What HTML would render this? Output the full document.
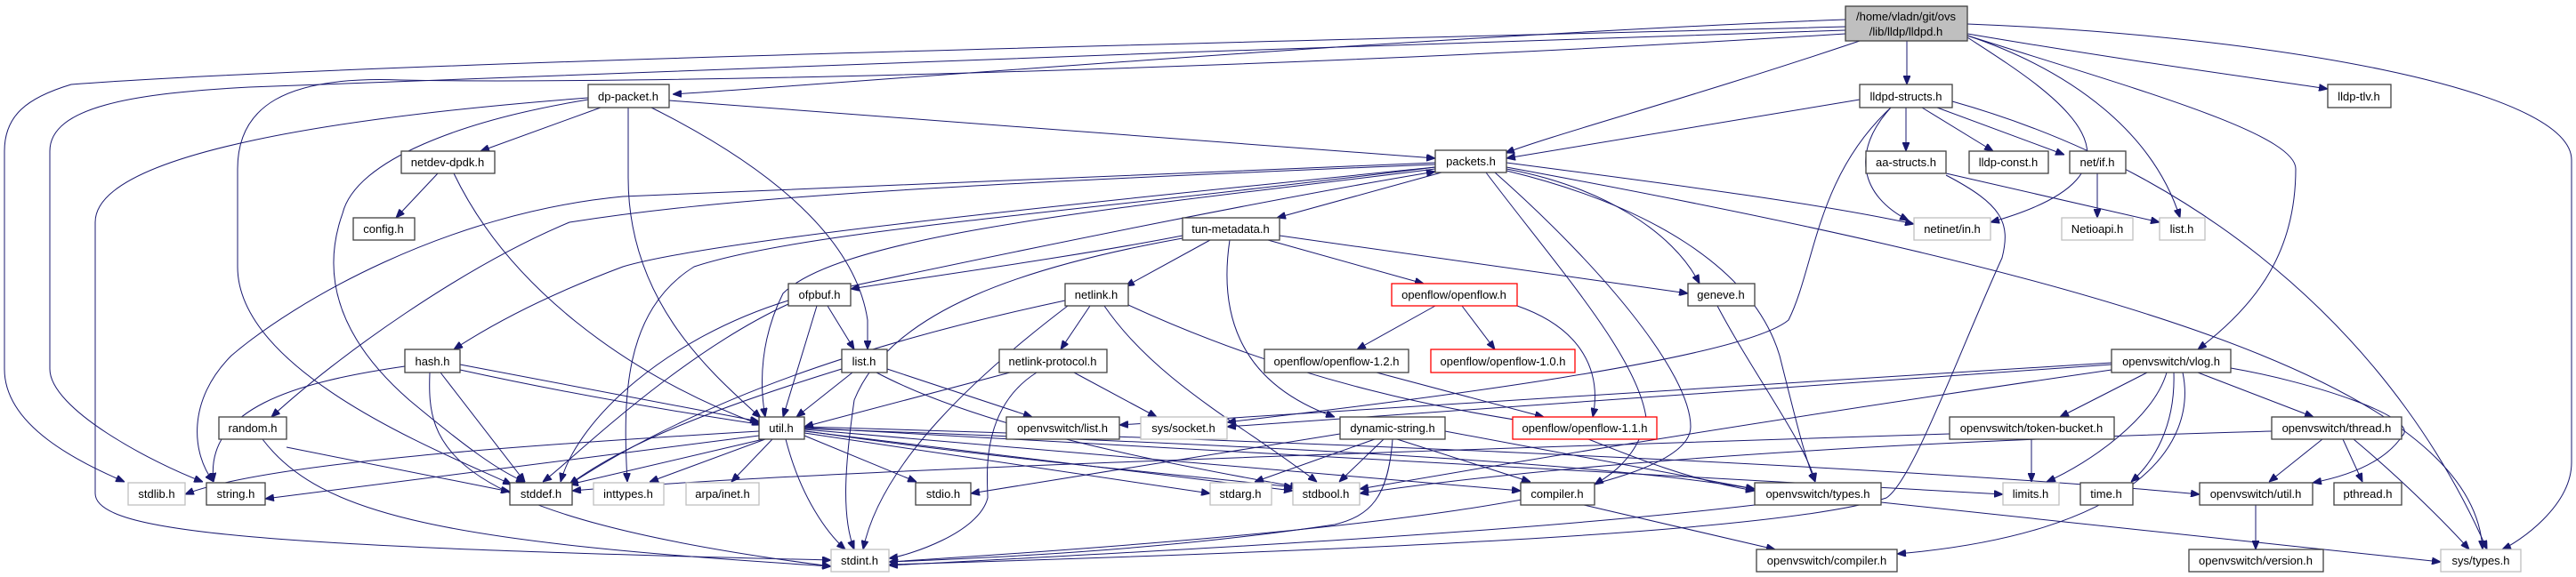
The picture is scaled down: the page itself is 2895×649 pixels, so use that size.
<!DOCTYPE html>
<html><head><meta charset="utf-8"><style>
html,body{margin:0;padding:0;background:#fff;}
svg{display:block;}
text{font-family:"Liberation Sans",sans-serif;font-size:13px;fill:#000;text-anchor:middle;}
.b{fill:#fff;stroke:#404040;stroke-width:1.3;}
.g{fill:#fff;stroke:#bfbfbf;stroke-width:1.3;}
.r{fill:#fff;stroke:#ff0000;stroke-width:1.3;}
.e{fill:none;stroke:#191970;stroke-width:1;marker-end:url(#a);}
</style></head><body>
<svg width="2895" height="649" viewBox="0 0 2895 649" xmlns="http://www.w3.org/2000/svg">
<defs><marker id="a" markerWidth="10" markerHeight="8" refX="10" refY="4" orient="auto" markerUnits="userSpaceOnUse"><path d="M0,0 L10,4 L0,8 z" fill="#191970" stroke="#191970"/></marker></defs>
<g>
<path class="e" d="M2074,22 C1600,40 1000,90 756,106"/>
<path class="e" d="M2143,46 L2143,95"/>
<path class="e" d="M2211,38 C2400,70 2550,90 2616,100"/>
<path class="e" d="M2090,46 C1900,110 1750,150 1692,172"/>
<path class="e" d="M2211,40 C2330,80 2420,150 2450,245"/>
<path class="e" d="M2211,42 C2300,100 2450,190 2237,250"/>
<path class="e" d="M2211,40 C2400,100 2580,150 2580,190 C2580,280 2540,340 2470,393"/>
<path class="e" d="M2211,27 C2550,40 2890,100 2890,180 L2890,520 C2890,570 2830,610 2812,618"/>
<path class="e" d="M2074,30 C1500,45 400,70 80,95 C30,110 5,130 5,170 L5,415 C5,480 90,520 140,542"/>
<path class="e" d="M2074,34 C1500,50 800,80 280,98 C150,105 56,120 56,170 L56,415 C56,460 170,520 228,542"/>
<path class="e" d="M2074,38 C1400,80 700,95 450,90 C320,85 267,120 267,190 L267,300 C267,420 500,510 575,545"/>
<path class="e" d="M661,110 C400,130 107,170 107,250 L107,555 C107,600 300,615 934,630"/>
<path class="e" d="M675,121 L540,170"/>
<path class="e" d="M661,112 C520,135 400,180 385,240 C360,310 380,380 460,450 C520,500 560,530 590,542"/>
<path class="e" d="M706,121 L706,200 C706,340 800,420 855,470"/>
<path class="e" d="M732,121 C850,180 960,260 975,360 L975,393"/>
<path class="e" d="M752,113 L1613,178"/>
<path class="e" d="M492,195 L445,245"/>
<path class="e" d="M510,195 C570,320 700,420 855,478"/>
<path class="e" d="M1613,183 C1200,200 900,215 700,221 C500,240 330,340 260,400 C210,450 215,510 240,542"/>
<path class="e" d="M1613,185 C1000,210 800,225 640,250 C520,300 380,400 305,469"/>
<path class="e" d="M1613,188 C1200,230 800,270 700,300 C620,330 560,360 510,393"/>
<path class="e" d="M1613,190 C1300,230 950,260 880,330 C855,380 853,430 860,469"/>
<path class="e" d="M1613,188 C1200,240 900,260 780,300 C700,350 700,450 705,542"/>
<path class="e" d="M1620,194 L1435,245"/>
<path class="e" d="M956,322 C1200,270 1450,220 1613,193"/>
<path class="e" d="M1693,183 C1900,210 2050,230 2151,252"/>
<path class="e" d="M1693,188 C2300,300 2780,420 2790,618"/>
<path class="e" d="M1693,190 C1800,210 1880,260 1910,319"/>
<path class="e" d="M1693,192 C1850,230 1970,300 2000,400 C2020,480 2030,520 2040,542"/>
<path class="e" d="M1670,194 C1750,300 1840,400 1850,470 C1840,520 1800,540 1792,545"/>
<path class="e" d="M1680,194 C1800,300 1900,420 1900,480 C1900,560 1500,600 999,632"/>
<path class="e" d="M1360,270 L1265,322"/>
<path class="e" d="M1329,265 C1200,290 1050,310 956,325"/>
<path class="e" d="M1425,270 L1600,319"/>
<path class="e" d="M1438,265 L1897,330"/>
<path class="e" d="M1382,270 C1370,350 1390,430 1500,469"/>
<path class="e" d="M1329,268 C1150,300 1000,350 960,450 C950,520 945,580 960,618"/>
<path class="e" d="M1613,344 L1525,393"/>
<path class="e" d="M1643,344 L1680,393"/>
<path class="e" d="M1705,344 C1780,370 1800,420 1790,469"/>
<path class="e" d="M1547,419 L1735,469"/>
<path class="e" d="M1225,344 L1192,393"/>
<path class="e" d="M1241,344 C1300,430 1400,480 1480,542"/>
<path class="e" d="M1197,338 C1000,380 800,440 640,545"/>
<path class="e" d="M1200,344 C1100,420 990,520 970,618"/>
<path class="e" d="M1268,343 C1500,450 1700,470 1750,480 C1850,520 1900,540 1972,552"/>
<path class="e" d="M1135,419 L904,480"/>
<path class="e" d="M1165,419 C1100,460 1110,540 1110,560 C1100,600 1020,625 999,628"/>
<path class="e" d="M1207,419 L1300,469"/>
<path class="e" d="M930,344 L960,393"/>
<path class="e" d="M918,344 L880,469"/>
<path class="e" d="M886,338 C750,380 650,470 630,542"/>
<path class="e" d="M886,342 C760,400 640,520 610,542"/>
<path class="e" d="M455,412 C330,430 230,460 240,542"/>
<path class="e" d="M495,419 L590,542"/>
<path class="e" d="M483,419 C480,500 490,580 934,637"/>
<path class="e" d="M517,410 L853,474"/>
<path class="e" d="M517,416 C900,500 1300,530 1453,548"/>
<path class="e" d="M322,503 L573,553"/>
<path class="e" d="M295,494 C360,580 500,610 934,637"/>
<path class="e" d="M958,419 L895,469"/>
<path class="e" d="M997,415 L1160,469"/>
<path class="e" d="M946,415 C800,460 700,500 640,545"/>
<path class="e" d="M985,419 C1100,480 1300,520 1460,548"/>
<path class="e" d="M853,485 C600,500 300,520 208,556"/>
<path class="e" d="M853,490 L298,561"/>
<path class="e" d="M858,494 L640,545"/>
<path class="e" d="M860,494 L730,542"/>
<path class="e" d="M868,494 L822,542"/>
<path class="e" d="M883,494 C900,560 930,600 950,618"/>
<path class="e" d="M904,490 L1030,542"/>
<path class="e" d="M904,487 L1360,555"/>
<path class="e" d="M904,485 L1453,552"/>
<path class="e" d="M904,483 L1709,552"/>
<path class="e" d="M904,482 C1400,500 1800,520 1972,550"/>
<path class="e" d="M904,481 L2251,556"/>
<path class="e" d="M904,480 C1600,500 2200,530 2472,556"/>
<path class="e" d="M2373,408 L1258,478"/>
<path class="e" d="M2373,410 L1379,480"/>
<path class="e" d="M2413,419 L2315,469"/>
<path class="e" d="M2470,419 L2600,469"/>
<path class="e" d="M2435,419 C2420,470 2350,520 2300,542"/>
<path class="e" d="M2443,419 C2445,480 2420,520 2395,542"/>
<path class="e" d="M2453,419 C2470,500 2400,600 2132,623"/>
<path class="e" d="M2507,414 C2600,430 2720,470 2700,490 C2680,520 2640,535 2599,543"/>
<path class="e" d="M2373,416 C2000,470 1700,520 1528,550"/>
<path class="e" d="M2283,494 L2283,542"/>
<path class="e" d="M2191,488 C1500,510 900,530 643,552"/>
<path class="e" d="M2610,494 L2550,542"/>
<path class="e" d="M2633,494 L2655,542"/>
<path class="e" d="M2645,494 C2700,540 2750,590 2775,618"/>
<path class="e" d="M2553,485 C2000,500 1700,530 1528,555"/>
<path class="e" d="M2535,568 L2535,618"/>
<path class="e" d="M2114,565 L2743,632"/>
<path class="e" d="M1972,568 C1700,600 1300,620 999,636"/>
<path class="e" d="M1780,568 L1995,618"/>
<path class="e" d="M1545,494 L1410,542"/>
<path class="e" d="M1555,494 L1505,542"/>
<path class="e" d="M1570,494 L1720,542"/>
<path class="e" d="M1506,488 L1091,555"/>
<path class="e" d="M1565,494 C1560,560 1540,580 1500,590 C1300,620 1100,628 999,632"/>
<path class="e" d="M1624,485 L1972,550"/>
<path class="e" d="M1930,344 C1970,420 2030,500 2040,542"/>
<path class="e" d="M2142,121 L2142,170"/>
<path class="e" d="M2160,121 L2240,170"/>
<path class="e" d="M2177,121 L2320,174"/>
<path class="e" d="M2125,121 C2080,170 2090,220 2145,248"/>
<path class="e" d="M2090,112 L1693,178"/>
<path class="e" d="M2194,114 C2500,200 2700,400 2795,618"/>
<path class="e" d="M2125,121 C2040,200 2040,300 2010,360 C1950,410 1500,460 1379,475"/>
<path class="e" d="M2187,195 L2427,250"/>
<path class="e" d="M2187,197 C2250,230 2260,250 2250,290 C2200,400 2150,540 2120,560 C2000,600 1500,620 999,635"/>
<path class="e" d="M2357,195 L2357,245"/>
</g>
<g>
<rect x="2074" y="7" width="137" height="39" fill="#bfbfbf" stroke="#404040" stroke-width="1.3"/>
<text x="2142" y="23">/home/vladn/git/ovs</text><text x="2142" y="40">/lib/lldp/lldpd.h</text>

<rect class="b" x="661" y="95" width="91" height="26"/><text x="706" y="113">dp-packet.h</text>
<rect class="b" x="2090" y="95" width="104" height="26"/><text x="2142" y="113">lldpd-structs.h</text>
<rect class="b" x="2616" y="95" width="71" height="26"/><text x="2651" y="113">lldp-tlv.h</text>

<rect class="b" x="451" y="170" width="105" height="25"/><text x="503" y="187">netdev-dpdk.h</text>
<rect class="b" x="1613" y="169" width="80" height="25"/><text x="1653" y="186">packets.h</text>
<rect class="b" x="2097" y="170" width="90" height="25"/><text x="2142" y="187">aa-structs.h</text>
<rect class="b" x="2213" y="170" width="89" height="25"/><text x="2257" y="187">lldp-const.h</text>
<rect class="b" x="2326" y="170" width="63" height="25"/><text x="2357" y="187">net/if.h</text>

<rect class="b" x="397" y="245" width="69" height="25"/><text x="431" y="262">config.h</text>
<rect class="b" x="1329" y="245" width="109" height="25"/><text x="1383" y="262">tun-metadata.h</text>
<rect class="g" x="2151" y="245" width="86" height="25"/><text x="2194" y="262">netinet/in.h</text>
<rect class="g" x="2317" y="245" width="80" height="25"/><text x="2357" y="262">Netioapi.h</text>
<rect class="g" x="2427" y="245" width="51" height="25"/><text x="2452" y="262">list.h</text>

<rect class="b" x="886" y="319" width="70" height="25"/><text x="921" y="336">ofpbuf.h</text>
<rect class="b" x="1197" y="319" width="71" height="25"/><text x="1232" y="336">netlink.h</text>
<rect class="r" x="1564" y="319" width="141" height="25"/><text x="1634" y="336">openflow/openflow.h</text>
<rect class="b" x="1897" y="319" width="75" height="25"/><text x="1934" y="336">geneve.h</text>

<rect class="b" x="455" y="393" width="62" height="26"/><text x="486" y="411">hash.h</text>
<rect class="b" x="946" y="393" width="51" height="26"/><text x="971" y="411">list.h</text>
<rect class="b" x="1123" y="393" width="121" height="26"/><text x="1183" y="411">netlink-protocol.h</text>
<rect class="b" x="1421" y="393" width="162" height="26"/><text x="1502" y="411">openflow/openflow-1.2.h</text>
<rect class="r" x="1608" y="393" width="162" height="26"/><text x="1689" y="411">openflow/openflow-1.0.h</text>
<rect class="b" x="2373" y="393" width="134" height="26"/><text x="2440" y="411">openvswitch/vlog.h</text>

<rect class="b" x="246" y="469" width="76" height="25"/><text x="284" y="486">random.h</text>
<rect class="b" x="853" y="469" width="51" height="25"/><text x="878" y="486">util.h</text>
<rect class="b" x="1131" y="469" width="127" height="25"/><text x="1194" y="486">openvswitch/list.h</text>
<rect class="g" x="1282" y="469" width="97" height="25"/><text x="1330" y="486">sys/socket.h</text>
<rect class="b" x="1506" y="469" width="118" height="25"/><text x="1565" y="486">dynamic-string.h</text>
<rect class="r" x="1700" y="469" width="162" height="25"/><text x="1781" y="486">openflow/openflow-1.1.h</text>
<rect class="b" x="2191" y="469" width="185" height="25"/><text x="2283" y="486">openvswitch/token-bucket.h</text>
<rect class="b" x="2553" y="469" width="146" height="25"/><text x="2626" y="486">openvswitch/thread.h</text>

<rect class="g" x="144" y="543" width="64" height="25"/><text x="176" y="560">stdlib.h</text>
<rect class="b" x="232" y="543" width="66" height="25"/><text x="265" y="560">string.h</text>
<rect class="b" x="573" y="543" width="70" height="25"/><text x="608" y="560">stddef.h</text>
<rect class="g" x="667" y="543" width="79" height="25"/><text x="706" y="560">inttypes.h</text>
<rect class="g" x="771" y="543" width="82" height="25"/><text x="812" y="560">arpa/inet.h</text>
<rect class="b" x="1029" y="543" width="62" height="25"/><text x="1060" y="560">stdio.h</text>
<rect class="g" x="1360" y="543" width="69" height="25"/><text x="1394" y="560">stdarg.h</text>
<rect class="g" x="1453" y="543" width="75" height="25"/><text x="1490" y="560">stdbool.h</text>
<rect class="b" x="1709" y="543" width="83" height="25"/><text x="1750" y="560">compiler.h</text>
<rect class="b" x="1972" y="543" width="142" height="25"/><text x="2043" y="560">openvswitch/types.h</text>
<rect class="g" x="2251" y="543" width="63" height="25"/><text x="2282" y="560">limits.h</text>
<rect class="b" x="2338" y="543" width="59" height="25"/><text x="2367" y="560">time.h</text>
<rect class="b" x="2472" y="543" width="127" height="25"/><text x="2535" y="560">openvswitch/util.h</text>
<rect class="b" x="2623" y="543" width="76" height="25"/><text x="2661" y="560">pthread.h</text>

<rect class="g" x="934" y="618" width="65" height="25"/><text x="966" y="635">stdint.h</text>
<rect class="b" x="1974" y="618" width="158" height="25"/><text x="2053" y="635">openvswitch/compiler.h</text>
<rect class="b" x="2460" y="618" width="151" height="25"/><text x="2535" y="635">openvswitch/version.h</text>
<rect class="g" x="2743" y="618" width="90" height="25"/><text x="2788" y="635">sys/types.h</text>
</g>
</svg>
</body></html>
